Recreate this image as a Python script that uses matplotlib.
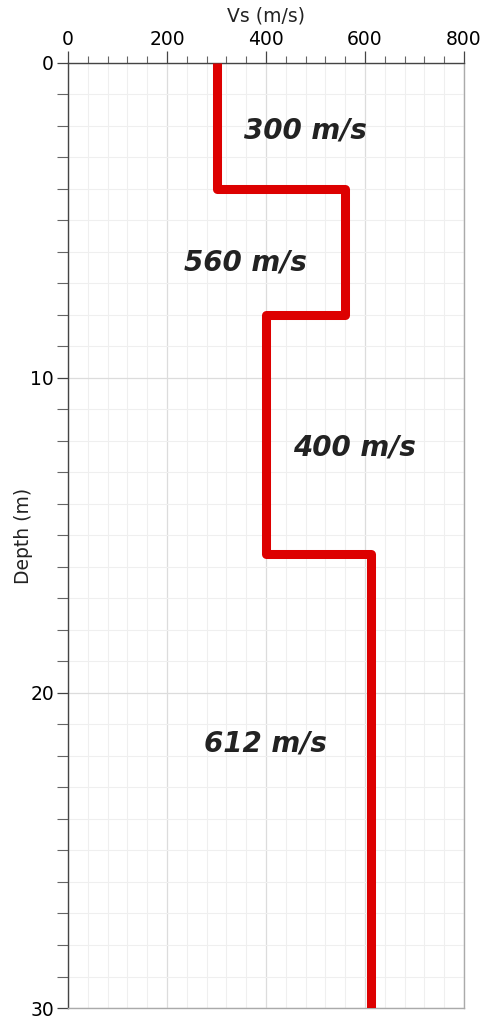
import matplotlib
matplotlib.use("Agg")
import matplotlib.pyplot as plt
from matplotlib.ticker import MultipleLocator

# Layered shear-wave velocity profile
layer_tops = [0, 4, 8, 15.6]
layer_bottoms = [4, 8, 15.6, 30]
layer_vs = [300, 560, 400, 612]
layer_labels = ["300 m/s", "560 m/s", "400 m/s", "612 m/s"]
label_x = [479, 358, 578, 398]
label_y = [2.13, 6.32, 12.22, 21.6]

x_ticks = [0, 200, 400, 600, 800]
y_ticks = [0, 10, 20, 30]

fig = plt.figure(figsize=(4.82, 10.23), dpi=100)
ax = fig.add_axes([0.1411, 0.01466, 0.8216, 0.9238])

# build step outline from layer arrays
xs, ys = [], []
for top, bot, v in zip(layer_tops, layer_bottoms, layer_vs):
    xs += [v, v]
    ys += [top, bot]
ax.plot(xs, ys, color="#dd0000", lw=6.5, solid_joinstyle="round",
        solid_capstyle="butt", zorder=3)

for txt, x, y in zip(layer_labels, label_x, label_y):
    ax.text(x, y, txt, fontsize=20, fontstyle="oblique", fontweight="bold",
            color="#222222", ha="center", va="center", zorder=4)

ax.set_xlim(0, 800)
ax.set_ylim(30, 0)
ax.xaxis.set_ticks_position("top")
ax.xaxis.set_label_position("top")
ax.set_xticks(x_ticks)
ax.set_yticks(y_ticks)
ax.xaxis.set_minor_locator(MultipleLocator(40))
ax.yaxis.set_minor_locator(MultipleLocator(1))

ax.grid(which="minor", color="#efefef", lw=0.8)
ax.grid(which="major", color="#dcdcdc", lw=0.9)
ax.set_axisbelow(True)

ax.tick_params(axis="x", which="major", direction="out", length=9,
               width=0.9, color="#444444", labelsize=13.5, pad=1)
ax.tick_params(axis="x", which="minor", direction="out", length=5,
               width=0.8, color="#666666")
ax.tick_params(axis="y", which="major", direction="out", length=8,
               width=0.9, color="#444444", labelsize=13.5, pad=2)
ax.tick_params(axis="y", which="minor", direction="out", length=8,
               width=0.8, color="#666666")

for side in ("left", "top"):
    ax.spines[side].set_color("#444444")
    ax.spines[side].set_linewidth(1.0)
for side in ("right", "bottom"):
    ax.spines[side].set_color("#aaaaaa")
    ax.spines[side].set_linewidth(1.0)

ax.set_xlabel("Vs (m/s)", fontsize=13.5, labelpad=6, color="#222222")
ax.set_ylabel("Depth (m)", fontsize=13.5, labelpad=-2, color="#222222")

fig.savefig("out.png", dpi=100)
